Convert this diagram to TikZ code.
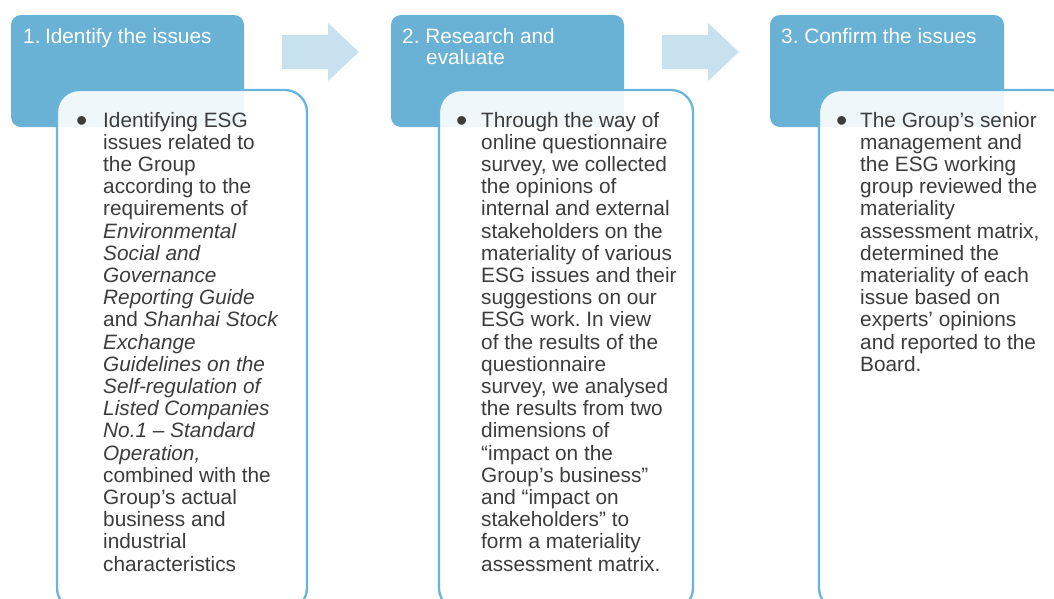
\documentclass[tikz,border=0pt]{standalone}
\usepackage{fontspec}
\setmainfont{Liberation Sans}
\frenchspacing
\definecolor{stepblue}{HTML}{69B2D5}
\definecolor{arrowblue}{HTML}{C8E1EF}
\definecolor{edgeblue}{HTML}{6AB4D9}
\definecolor{bodygray}{HTML}{3C3C3C}
\tikzset{
  headbox/.style={fill=stepblue, rounded corners=10pt},
  bodybox/.style={draw=edgeblue, line width=2.3pt, fill=white, fill opacity=0.9, rounded corners=22pt},
  flowarrow/.style={fill=arrowblue},
  headtext/.style={anchor=base west, inner sep=0pt, text=white, font=\fontsize{20.8}{21}\selectfont},
  bodytext/.style={anchor=base west, inner sep=0pt, text=bodygray, font=\fontsize{20.8}{22.2}\selectfont},
  bulletmark/.style={anchor=base west, inner sep=0pt, text=bodygray, font=\fontsize{32}{32}\selectfont},
}
\begin{document}
\begin{tikzpicture}[x=1pt,y=-1pt]
\useasboundingbox (0,0) rectangle (1054,598);
\clip (0,0) rectangle (1054,598);
\fill[white] (0,0) rectangle (1054,598);

% step 1
\path[headbox] (11,15) rectangle (244,127);
\path[bodybox] (57,90) rectangle (307,610);
\node[headtext] (h1) at (23,43) {1.\kern4.5pt Identify the issues};
\node[bulletmark] (b1) at (76,131) {•};
\node[bodytext] (t1) at (103,127) {\parbox[t]{300pt}{\raggedright
Identifying ESG\\
issues related to\\
the Group\\
according to the\\
requirements of\\
\textit{Environmental}\\
\textit{Social and}\\
\textit{Governance}\\
\textit{Reporting Guide}\\
and \textit{Shanhai Stock}\\
\textit{Exchange}\\
\textit{Guidelines on the}\\
\textit{Self-regulation of}\\
\textit{Listed Companies}\\
\textit{No.1 – Standard}\\
\textit{Operation,}\\
combined with the\\
Group’s actual\\
business and\\
industrial\\
characteristics}};

% arrow 1
\fill[flowarrow] (282,35) -- (328,35) -- (328,23) -- (359,52) -- (328,81) -- (328,69) -- (282,69) -- cycle;

% step 2
\path[headbox] (391,15) rectangle (624,127);
\path[bodybox] (439,90) rectangle (693,610);
\node[headtext] (h2) at (402,43) {2. Research and};
\node[headtext] (h2b) at (426,64) {evaluate};
\node[bulletmark] (b2) at (456,131) {•};
\node[bodytext] (t2) at (481,127) {\parbox[t]{300pt}{\raggedright
Through the way of\\
online questionnaire\\
survey, we collected\\
the opinions of\\
internal and external\\
stakeholders on the\\
materiality of various\\
ESG issues and their\\
suggestions on our\\
ESG work. In view\\
of the results of the\\
questionnaire\\
survey, we analysed\\
the results from two\\
dimensions of\\
“impact on the\\
Group’s business”\\
and “impact on\\
stakeholders” to\\
form a materiality\\
assessment matrix.}};

% arrow 2
\fill[flowarrow] (662,35) -- (708,35) -- (708,23) -- (739,52) -- (708,81) -- (708,69) -- (662,69) -- cycle;

% step 3
\path[headbox] (770,15) rectangle (1004,127);
\path[bodybox] (819,90) rectangle (1073,610);
\node[headtext] (h3) at (781,43) {3. Confirm the issues};
\node[bulletmark] (b3) at (836,131) {•};
\node[bodytext] (t3) at (860,127) {\parbox[t]{300pt}{\raggedright
The Group’s senior\\
management and\\
the ESG working\\
group reviewed the\\
materiality\\
assessment matrix,\\
determined the\\
materiality of each\\
issue based on\\
experts’ opinions\\
and reported to the\\
Board.}};
\end{tikzpicture}
\end{document}
